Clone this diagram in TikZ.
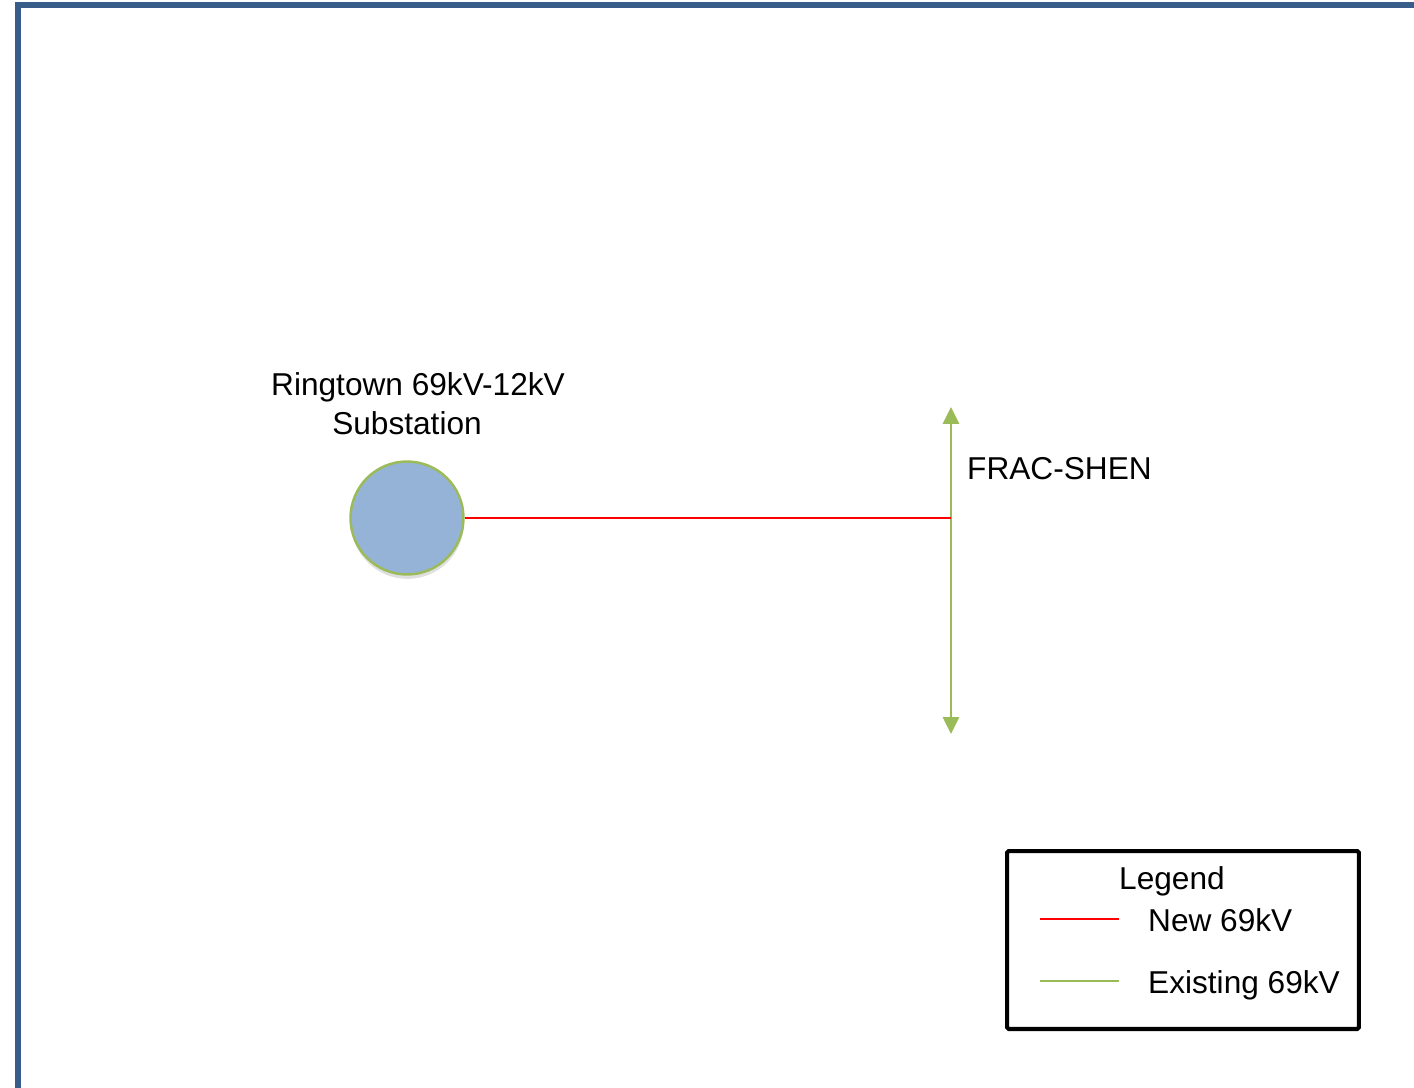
\documentclass[tikz,border=0pt]{standalone}
\usepackage{fontspec}
\setmainfont{Liberation Sans}
\usetikzlibrary{arrows.meta,shadows}
\definecolor{frameblue}{RGB}{56,93,138}
\definecolor{subfill}{RGB}{149,179,215}
\definecolor{linegreen}{RGB}{155,187,89}

\begin{document}
\begin{tikzpicture}[x=0.02cm,y=-0.02cm,
  lbl/.style={font=\fontsize{18}{21.6}\selectfont},
  newline/.style={red,line width=1.1pt},
  oldline/.style={linegreen,line width=1.6pt}]
  \useasboundingbox (0,0) rectangle (1414,1088);
  % page frame
  \draw[frameblue,line width=3.2pt] (18,1100) -- (18,5) -- (1430,5);
  % substation
  \node[circle,minimum size=2.26cm,fill=subfill,draw=linegreen,line width=1.4pt,
    drop shadow={shadow xshift=0.3pt,shadow yshift=-2.5pt,opacity=0.25,fill=gray}] (ringtown) at (407,518) {};
  \node[lbl,anchor=base] (ringlbl) at (418,395) {Ringtown 69kV-12kV};
  \node[lbl,anchor=base] (ringsub) at (407,434) {Substation};
  % existing line
  \coordinate (fractop) at (951,407);
  \coordinate (fracbot) at (951,734);
  \coordinate (tap) at (951,518);
  \draw[oldline,{Triangle[length=0.34cm,width=0.32cm]}-{Triangle[length=0.34cm,width=0.32cm]}] (fractop) -- (fracbot);
  \node[lbl,anchor=base west] (frac) at (961,479) {FRAC-SHEN};
  % new line
  \draw[newline] (ringtown.east) -- (tap);
  % legend
  \node[draw,line width=2.3pt,rounded corners=1pt,minimum width=7.04cm,minimum height=3.56cm] (legend) at (1183,940) {};
  \node[lbl,anchor=base] (legtitle) at (1172,889) {Legend};
  \coordinate (newa) at (1040,919);
  \coordinate (newb) at (1119,919);
  \coordinate (olda) at (1040,981);
  \coordinate (oldb) at (1119,981);
  \draw[newline] (newa) -- (newb);
  \draw[oldline] (olda) -- (oldb);
  \node[lbl,anchor=base west] (newlbl) at (1142,931) {New 69kV};
  \node[lbl,anchor=base west] (oldlbl) at (1142,993) {Existing 69kV};
\end{tikzpicture}
\end{document}
